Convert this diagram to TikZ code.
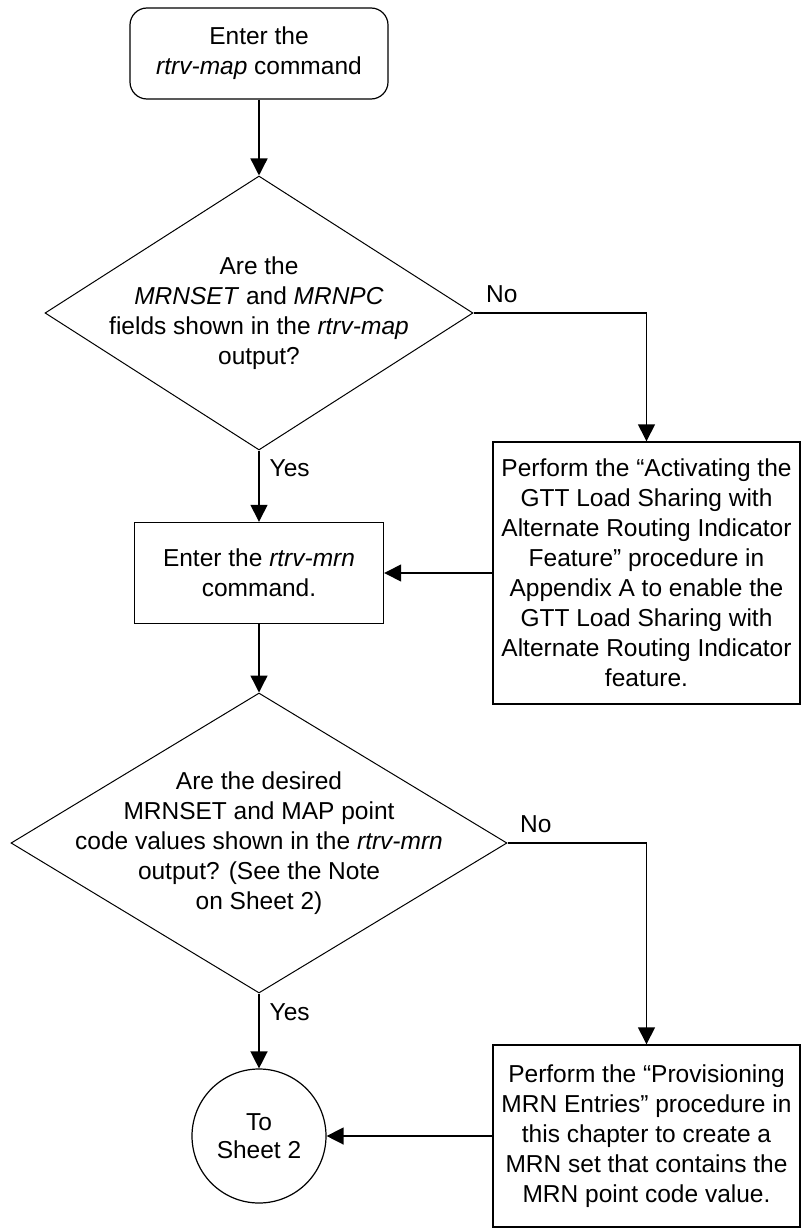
\documentclass[tikz,border=0pt]{standalone}
\usepackage{fontspec}
\setmainfont{Liberation Sans}
\usetikzlibrary{arrows.meta,shapes.geometric}

\begin{document}
\begin{tikzpicture}[x=1pt, y=-1pt, >={Triangle[length=17pt,width=17pt]},
  font=\fontsize{24.5}{30}\selectfont,
  startbox/.style={draw, line width=1.2pt, rounded corners=17pt, align=center,
    inner sep=0pt, minimum width=258pt, minimum height=91pt},
  procbox/.style={draw, line width=1.4pt, align=center, inner sep=0pt},
  decision/.style={draw, diamond, line width=1pt, inner sep=0pt},
  connector/.style={draw, circle, line width=1.2pt, align=center, inner sep=0pt,
    minimum size=134pt, font=\fontsize{24.5}{28}\selectfont},
  flow/.style={->, line width=1.4pt},
  answer/.style={inner sep=0pt}]
  \useasboundingbox (0,0) rectangle (801,1228);

  % start
  \node[startbox] (start) at (259,53.5) {Enter the\\\textit{rtrv-map} command};

  % first question
  \node[decision, minimum width=428pt, minimum height=274pt] (q1) at (259,313) {};
  \node[align=center] (q1txt) at (q1) {Are the\\\textit{MRNSET} and \textit{MRNPC}\\
    fields shown in the \textit{rtrv-map}\\output?};

  % activate the feature
  \node[procbox, minimum width=307pt, minimum height=262pt] (act) at (646.5,573)
    {Perform the ``Activating the\\GTT Load Sharing with\\Alternate Routing Indicator\\
     Feature'' procedure in\\Appendix A to enable the\\GTT Load Sharing with\\
     Alternate Routing Indicator\\feature.};

  % rtrv-mrn
  \node[procbox, minimum width=249pt, minimum height=101pt] (mrn) at (259,573)
    {Enter the \textit{rtrv-mrn}\\command.};

  % second question
  \node[decision, minimum width=496pt, minimum height=300pt] (q2) at (259,843) {};
  \node[align=center] (q2txt) at (q2) {Are the desired\\MRNSET and MAP point\\
    code values shown in the \textit{rtrv-mrn}\\output? (See the Note\\on Sheet 2)};

  % provision MRN entries
  \node[procbox, minimum width=307pt, minimum height=182pt] (prov) at (646.5,1136)
    {Perform the ``Provisioning\\MRN Entries'' procedure in\\this chapter to create a\\
     MRN set that contains the\\MRN point code value.};

  % off-page connector
  \node[connector] (sheet) at (259,1136) {To\\Sheet 2};

  % connectors
  \draw[flow] (start) -- (q1);
  \draw[flow] (q1) -- node[answer, pos=0.25, right=10pt] {Yes} (mrn);
  \draw[flow] (q1.east) -| node[answer, at start, anchor=south west, xshift=12pt, yshift=10pt] {No} (act.north);
  \draw[flow] (act) -- (mrn);
  \draw[flow] (mrn) -- (q2);
  \draw[flow] (q2) -- node[answer, pos=0.25, right=10pt] {Yes} (sheet);
  \draw[flow] (q2.east) -| node[answer, at start, anchor=south west, xshift=12pt, yshift=10pt] {No} (prov.north);
  \draw[flow] (prov) -- (sheet);
\end{tikzpicture}
\end{document}
